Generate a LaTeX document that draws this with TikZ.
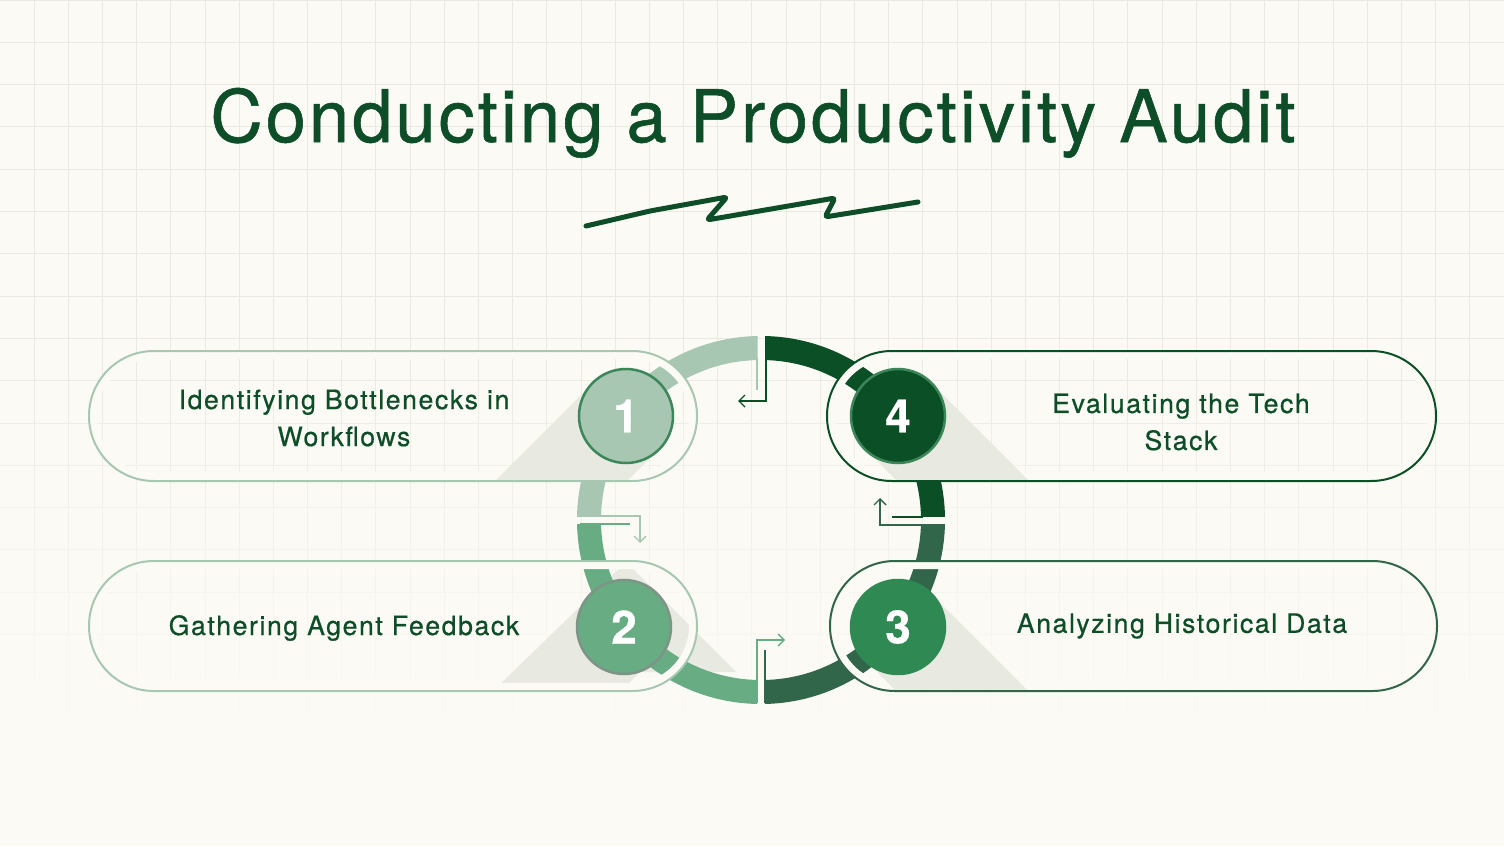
\documentclass[tikz,border=0pt]{standalone}
\usepackage{fontspec}
\setmainfont{TeX Gyre Heros}
\newfontfamily\titlefont[LetterSpace=4.1,FakeBold=0.8]{TeX Gyre Heros}
\newfontfamily\bodyfont[LetterSpace=6,FakeBold=0.6]{TeX Gyre Heros}
\usetikzlibrary{arrows.meta}
\definecolor{bg}{HTML}{FCFAF5}
\definecolor{gridc}{HTML}{E8EBE0}
\definecolor{ink}{HTML}{0D4D27}
\definecolor{segA}{HTML}{A7C7B3}
\definecolor{segB}{HTML}{67AC82}
\definecolor{segC}{HTML}{32664A}
\definecolor{segD}{HTML}{0B4F27}
\definecolor{dotC}{HTML}{2E8A52}
\definecolor{rimA}{HTML}{3C875A}
\definecolor{rimB}{HTML}{7E9486}
\definecolor{shadowc}{HTML}{E8EAE2}

\begin{document}
\begin{tikzpicture}[x=0.5pt,y=-0.5pt,>={Straight Barb[length=3pt,width=6pt]},
  numc/.style={circle,minimum size=47pt,inner sep=0pt,line width=1.25pt,text=white,
    font=\bodyfont\bfseries\fontsize{23}{23}\selectfont},
  steptext/.style={align=center,text=ink,font=\bodyfont\fontsize{13.3}{18.5}\selectfont},
  pill/.style={line width=1pt,rounded corners=32.4pt},
  band/.style={line width=4pt,bg,rounded corners=30.4pt},
  seg/.style={line width=12pt},
  link/.style={line width=0.7pt}]
\useasboundingbox (0,0) rectangle (1504,846);
\fill[bg] (0,0) rectangle (1504,846);
\foreach \j in {0,...,19}{
  \pgfmathtruncatemacro\p{max(0,min(100,(729-42.3*\j)/4))}
  \draw[gridc!\p!bg,line width=0.5pt] (0,42.3*\j) -- (1504,42.3*\j);
  \foreach \i in {1,...,43}
    \draw[gridc!\p!bg,line width=0.5pt] (34.18*\i,42.3*\j) -- (34.18*\i,42.3*\j+42.3);
}

\node[font=\titlefont\fontsize{36.2}{36}\selectfont,text=ink,anchor=base] (title) at (753,142)
  {Conducting a Productivity Audit};
\draw[ink,line width=2.5pt,line cap=round,line join=round,rounded corners=1.5pt]
  (586,226) -- (650,211) -- (727,197) -- (707,220) -- (835,198) -- (825,217) -- (918,202);

\coordinate (ring) at (761,520);
\fill[shadowc] (626,562) -- (736,672) -- (640,672) -- (622,690) -- (494,690) -- cycle;
\begin{scope}
  \clip (557,300) rectangle (757.5,516);
  \draw[segA,seg] (ring) circle (172);
\end{scope}
\begin{scope}
  \clip (557,524) rectangle (757,740);
  \draw[segB,seg] (ring) circle (172);
\end{scope}
\begin{scope}
  \clip (765,524) rectangle (965,740);
  \draw[segC,seg] (ring) circle (172);
\end{scope}
\begin{scope}
  \clip (765,300) rectangle (965,516);
  \draw[segD,seg] (ring) circle (172);
\end{scope}

\draw[band] (93,355) rectangle (693,477);
\draw[band] (93,565) rectangle (693,687);
\draw[band] (831,355) rectangle (1432,477);
\draw[band] (834,565) rectangle (1433,687);

\begin{scope}
  \clip[rounded corners=32.4pt] (89,351) rectangle (697,481);
  \fill[shadowc] (593,383) -- (659,449) -- (459,649) -- (393,583) -- cycle;
\end{scope}
\begin{scope}
  \clip[rounded corners=32.4pt] (827,351) rectangle (1436,481);
  \fill[shadowc] (931,383) -- (865,449) -- (1065,649) -- (1131,583) -- cycle;
\end{scope}
\begin{scope}
  \clip[rounded corners=32.4pt] (830,561) rectangle (1437,691);
  \fill[shadowc] (931,594) -- (865,660) -- (1065,860) -- (1131,794) -- cycle;
\end{scope}

\draw[pill,segA] (89,351) rectangle (697,481);
\draw[pill,segA] (89,561) rectangle (697,691);
\draw[pill,segD] (827,351) rectangle (1436,481);
\draw[pill,segC] (830,561) rectangle (1437,691);

\node[numc,fill=segA,draw=rimA] (n1) at (626,416) {1};
\node[numc,fill=segB,draw=rimB] (n2) at (624,627) {2};
\node[numc,fill=dotC,draw=dotC] (n3) at (898,627) {3};
\node[numc,fill=segD,draw=rimA] (n4) at (898,416) {4};

\node[steptext] (t1) at (344,418) {Identifying Bottlenecks in\\Workflows};
\node[steptext] (t2) at (344,628) {Gathering Agent Feedback};
\node[steptext] (t3) at (1182,626) {Analyzing Historical Data};
\node[steptext] (t4) at (1181,422) {Evaluating the Tech\\Stack};

\coordinate (topA) at (757,358);
\coordinate (topAe) at (757,390);
\coordinate (topD) at (766,358);
\coordinate (topDe) at (738,401);
\coordinate (leftA) at (580,516);
\coordinate (leftAe) at (640,543);
\coordinate (leftB) at (580,524);
\coordinate (leftBe) at (630,524);
\coordinate (botB) at (757,703);
\coordinate (botBe) at (785,640);
\coordinate (botC) at (765,703);
\coordinate (botCe) at (765,650);
\coordinate (rightD) at (923,517);
\coordinate (rightDe) at (892,517);
\coordinate (rightC) at (923,525);
\coordinate (rightCe) at (880,498);

\draw[link,segA] (topA) -- (topAe);
\draw[link,segD,->] (topD) |- (topDe);
\draw[link,segA,->] (leftA) -| (leftAe);
\draw[link,segB] (leftB) -- (leftBe);
\draw[link,segB,->] (botB) |- (botBe);
\draw[link,segC] (botC) -- (botCe);
\draw[link,segD] (rightD) -- (rightDe);
\draw[link,segC,->] (rightC) -| (rightCe);
\end{tikzpicture}
\end{document}
